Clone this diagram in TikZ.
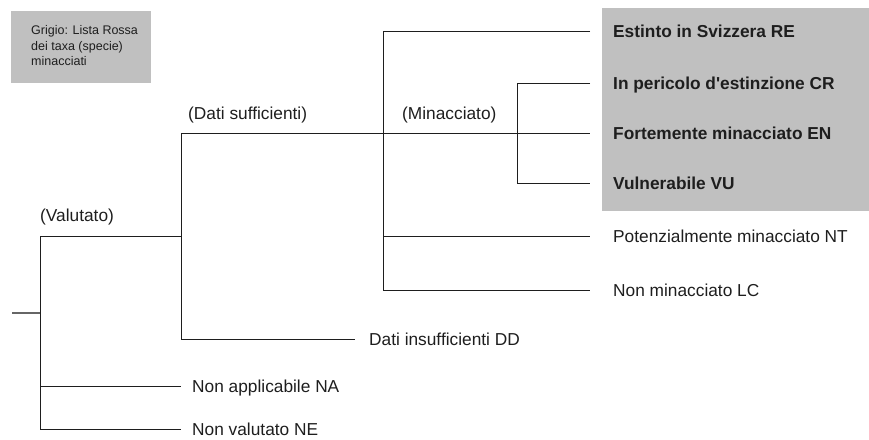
\documentclass[tikz,border=0pt]{standalone}
\usepackage{fontspec}
\setmainfont{Liberation Sans}
\usepackage{tikz}
\usetikzlibrary{positioning}
\usepackage{xcolor}
\definecolor{redlist}{RGB}{192,192,192}
\definecolor{ink}{RGB}{30,30,30}
\tikzset{
tree/.style={draw=ink,
  line width=0.9pt},
stem/.style={draw=black!60,
  line width=1.4pt},
leaf/.style={inner sep=0pt,
    anchor=west,
    text=ink,
    text height=12pt,
    text depth=0pt,
    font=\fontsize{17.3}{20}\selectfont},
threat/.style={leaf,
  font=\fontsize{17.3}{20}\selectfont\bfseries},
branch/.style={inner sep=0pt,
  anchor=base west,
  text=ink,
  font=\fontsize{17.3}{20}\selectfont},
legend/.style={inner sep=0pt,
  anchor=west,
  align=left,
  text=ink,
  font=\fontsize{12.5}{15.5}\selectfont},
}
\begin{document}
\begin{tikzpicture}[x=1pt,y=-1pt]
  \useasboundingbox (0,0) rectangle (869,439);

  % grey fields
  \fill [redlist] (11,11) rectangle (151,83);
  \fill [redlist] (602,8) rectangle (869,211);
  \node [legend] (key) at (31,46) {Grigio: Lista Rossa\\dei taxa (specie)\\minacciati};

  % Junctions and line ends
  \coordinate (stub) at (12,313);
  \coordinate (rootj) at (40,313);
  \coordinate (valend) at (181,236);
  \coordinate (naend) at (181,386);
  \coordinate (neend) at (181,429);
  \coordinate (ddend) at (355,339);
  \coordinate (suffend) at (383,133);
  \coordinate (minend) at (517,133);
  \coordinate (reend) at (590,31);
  \coordinate (crend) at (590,83);
  \coordinate (enend) at (590,133);
  \coordinate (vuend) at (590,183);
  \coordinate (ntend) at (590,236);
  \coordinate (lcend) at (590,290);

  % Nodes
  \node [branch] (valutato) at (40,221) {(Valutato)};
  \node [branch] (sufficienti) at (188,119) {(Dati sufficienti)};
  \node [branch] (minacciato) at (402,119) {(Minacciato)};
  \node [threat, right=23pt of reend] (re) {Estinto in Svizzera RE};
  \node [threat, right=23pt of crend] (cr) {In pericolo d\textquotesingle estinzione CR};
  \node [threat, right=23pt of enend] (en) {Fortemente minacciato EN};
  \node [threat, right=23pt of vuend] (vu) {Vulnerabile VU};
  \node [leaf, right=23pt of ntend] (nt) {Potenzialmente minacciato NT};
  \node [leaf, right=23pt of lcend] (lc) {Non minacciato LC};
  \node [leaf, right=14pt of ddend] (dd) {Dati insufficienti DD};
  \node [leaf, right=11pt of naend] (na) {Non applicabile NA};
  \node [leaf, right=11pt of neend] (ne) {Non valutato NE};

  % Tree with right-angle corners
  \draw [stem] (stub) -- (rootj);
  \draw [tree] (valend) -| (rootj |- neend) -- (neend);
  \draw [tree] (rootj |- naend) -- (naend);
  \draw [tree] (suffend) -| (valend |- ddend) -- (ddend);
  \draw [tree] (reend) -| (suffend |- lcend) -- (lcend);
  \draw [tree] (suffend |- ntend) -- (ntend);
  \draw [tree] (suffend) -- (enend);
  \draw [tree] (crend) -| (minend |- vuend) -- (vuend);
\end{tikzpicture}
\end{document}
